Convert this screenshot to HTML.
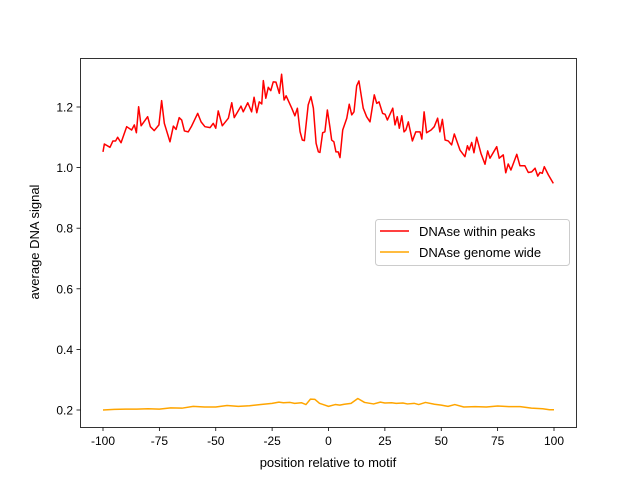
<!DOCTYPE html>
<html><head><meta charset="utf-8"><style>
html,body{margin:0;padding:0;background:#fff;}
svg{display:block;font-family:"Liberation Sans","DejaVu Sans",sans-serif;}
</style></head><body>
<svg id="chart" width="640" height="480" viewBox="0 0 640 480">
<rect x="0" y="0" width="640" height="480" fill="#fff"/>
<g id="plot"></g>
<g id="axes"></g>
<text x="328" y="467" text-anchor="middle" font-size="13">position relative to motif</text>
<text transform="translate(39,242) rotate(-90)" text-anchor="middle" font-size="13">average DNA signal</text>
<g>
<rect x="375.5" y="219.5" width="194" height="46" rx="3" fill="#fff" fill-opacity="0.8" stroke="#ccc"/>
<g>
<line x1="380" y1="231" x2="409" y2="231" stroke="red" stroke-width="1.5"/>
<text x="419" y="236" font-size="13">DNAse within peaks</text></g>
<g>
<line x1="380" y1="252" x2="409" y2="252" stroke="orange" stroke-width="1.5"/>
<text x="419" y="257" font-size="13">DNAse genome wide</text></g>
</g>
</svg>
<script>
const xTicks=[-100,-75,-50,-25,0,25,50,75,100];
const yTicks=[0.2,0.4,0.6,0.8,1.0,1.2];
const yTickLabels=["0.2","0.4","0.6","0.8","1.0","1.2"];
const peaksX=[-100,-99.4,-96.9,-95.6,-94.4,-93.5,-92,-89.5,-87.3,-86.1,-85.2,-84.2,-83.1,-80.2,-79,-77.3,-75.2,-74,-72.8,-70.3,-68.8,-67.6,-66.2,-65.1,-63.9,-62.2,-60.7,-58,-56.5,-54.8,-52.5,-51.1,-50,-48.9,-47.1,-44.4,-42.9,-41.8,-38.8,-37.8,-35.8,-34.1,-33,-31.8,-30.7,-29.6,-28.9,-27.8,-26.7,-25.6,-24.5,-23.3,-21.8,-20.8,-19.7,-18.8,-16.3,-14.9,-13.8,-12.6,-11.6,-10.7,-9,-7.8,-6.7,-5.5,-4.5,-3.8,-2.6,-1.6,-0.5,0.7,1.4,2.4,3.3,4.3,5.1,6.3,8.1,9.2,10.3,11.3,12.5,13.5,15.4,16.9,18.4,20.3,21.4,22.4,24,25.1,26.1,28.5,29.5,30.5,31.4,32.5,33.5,34.3,35.4,37.2,38.7,40.6,41.4,42.4,43.5,45.5,46.9,48.4,49.4,50.5,51.7,53.1,54.6,55.8,58.3,60.5,61.6,62.4,63.5,64.5,65.7,67.6,69.4,70.6,71.6,74.6,75.7,77.5,78.6,79.7,80.9,83.5,84.9,87.1,88.6,90.1,91.6,92.8,93.8,94.8,95.7,97.5,99.7];
const peaksY=[1.052,1.078,1.067,1.088,1.088,1.100,1.082,1.135,1.124,1.141,1.115,1.201,1.138,1.168,1.135,1.122,1.141,1.221,1.146,1.085,1.137,1.126,1.165,1.157,1.121,1.118,1.137,1.179,1.151,1.135,1.132,1.146,1.130,1.187,1.138,1.163,1.214,1.165,1.203,1.184,1.214,1.184,1.232,1.181,1.217,1.210,1.287,1.229,1.265,1.254,1.283,1.282,1.245,1.308,1.223,1.237,1.196,1.171,1.196,1.118,1.091,1.089,1.207,1.234,1.196,1.080,1.052,1.050,1.115,1.118,1.190,1.130,1.091,1.085,1.052,1.052,1.033,1.124,1.163,1.209,1.174,1.184,1.270,1.286,1.196,1.168,1.151,1.240,1.212,1.217,1.179,1.176,1.157,1.196,1.141,1.168,1.130,1.171,1.118,1.124,1.151,1.088,1.118,1.118,1.094,1.184,1.115,1.124,1.135,1.163,1.118,1.159,1.091,1.088,1.075,1.111,1.058,1.036,1.072,1.058,1.083,1.049,1.100,1.047,1.011,1.055,1.031,1.069,1.031,1.042,0.983,1.012,0.992,1.044,1.006,1.006,0.984,0.986,0.998,0.972,0.984,0.981,1.003,0.976,0.948];
const genomeX=[-100,-95,-90,-85,-80,-75,-70,-65,-60,-55,-50,-45,-40,-35,-30,-25,-22,-20,-17,-15,-12,-10,-8,-6,-4,-2,0,3,5,7,10,13,16,20,23,25,28,30,33,35,38,40,43,47,50,53,56,60,65,70,75,80,85,90,95,98,100];
const genomeY=[0.200,0.202,0.203,0.203,0.204,0.203,0.207,0.206,0.212,0.210,0.210,0.215,0.212,0.214,0.218,0.222,0.226,0.224,0.225,0.222,0.224,0.218,0.236,0.235,0.222,0.217,0.212,0.218,0.216,0.219,0.222,0.238,0.225,0.220,0.226,0.223,0.224,0.222,0.223,0.220,0.222,0.218,0.225,0.219,0.216,0.212,0.218,0.210,0.211,0.210,0.213,0.211,0.211,0.206,0.204,0.201,0.201];

const NS='http://www.w3.org/2000/svg';
const L=80,R=576,T=58,B=427;
function sx(v){return 103+(v+100)*(451/200);}
function sy(v){return 410-(v-0.2)*303;}
const plot=document.getElementById('plot');
const axes=document.getElementById('axes');
function mk(tag,attrs,parent){const e=document.createElementNS(NS,tag);for(const k in attrs)e.setAttribute(k,attrs[k]);parent.appendChild(e);return e;}

function drawLine(xs,ys,color,name){
  const d=xs.map((x,i)=>(i?'L':'M')+sx(x).toFixed(2)+' '+sy(ys[i]).toFixed(2)).join(' ');
  const p=mk('path',{d:d,fill:'none',stroke:color,'stroke-width':1.5,'stroke-linejoin':'round'},plot);
  
  
}
drawLine(peaksX,peaksY,'red','series-within-peaks');
drawLine(genomeX,genomeY,'orange','series-genome-wide');

const frame=mk('rect',{x:L+0.5,y:T+0.5,width:R-L,height:B-T,fill:'none',stroke:'#000','stroke-width':0.8},axes);



xTicks.forEach(v=>{
  const x=sx(v);
  const t=mk('line',{x1:x,y1:B+0.5,x2:x,y2:B+4,stroke:'#000','stroke-width':0.8},axes);
  
  
  const lb=mk('text',{x:x,y:B+18,'text-anchor':'middle','font-size':12},axes);
  lb.textContent=String(v);
  
  
});
yTicks.forEach((v,i)=>{
  const y=sy(v);
  const t=mk('line',{x1:L-3.5,y1:y,x2:L+0.5,y2:y,stroke:'#000','stroke-width':0.8},axes);
  
  
  const lb=mk('text',{x:L-7,y:y+4.5,'text-anchor':'end','font-size':12},axes);
  lb.textContent=yTickLabels[i];
  
  
});
</script>
</body></html>
